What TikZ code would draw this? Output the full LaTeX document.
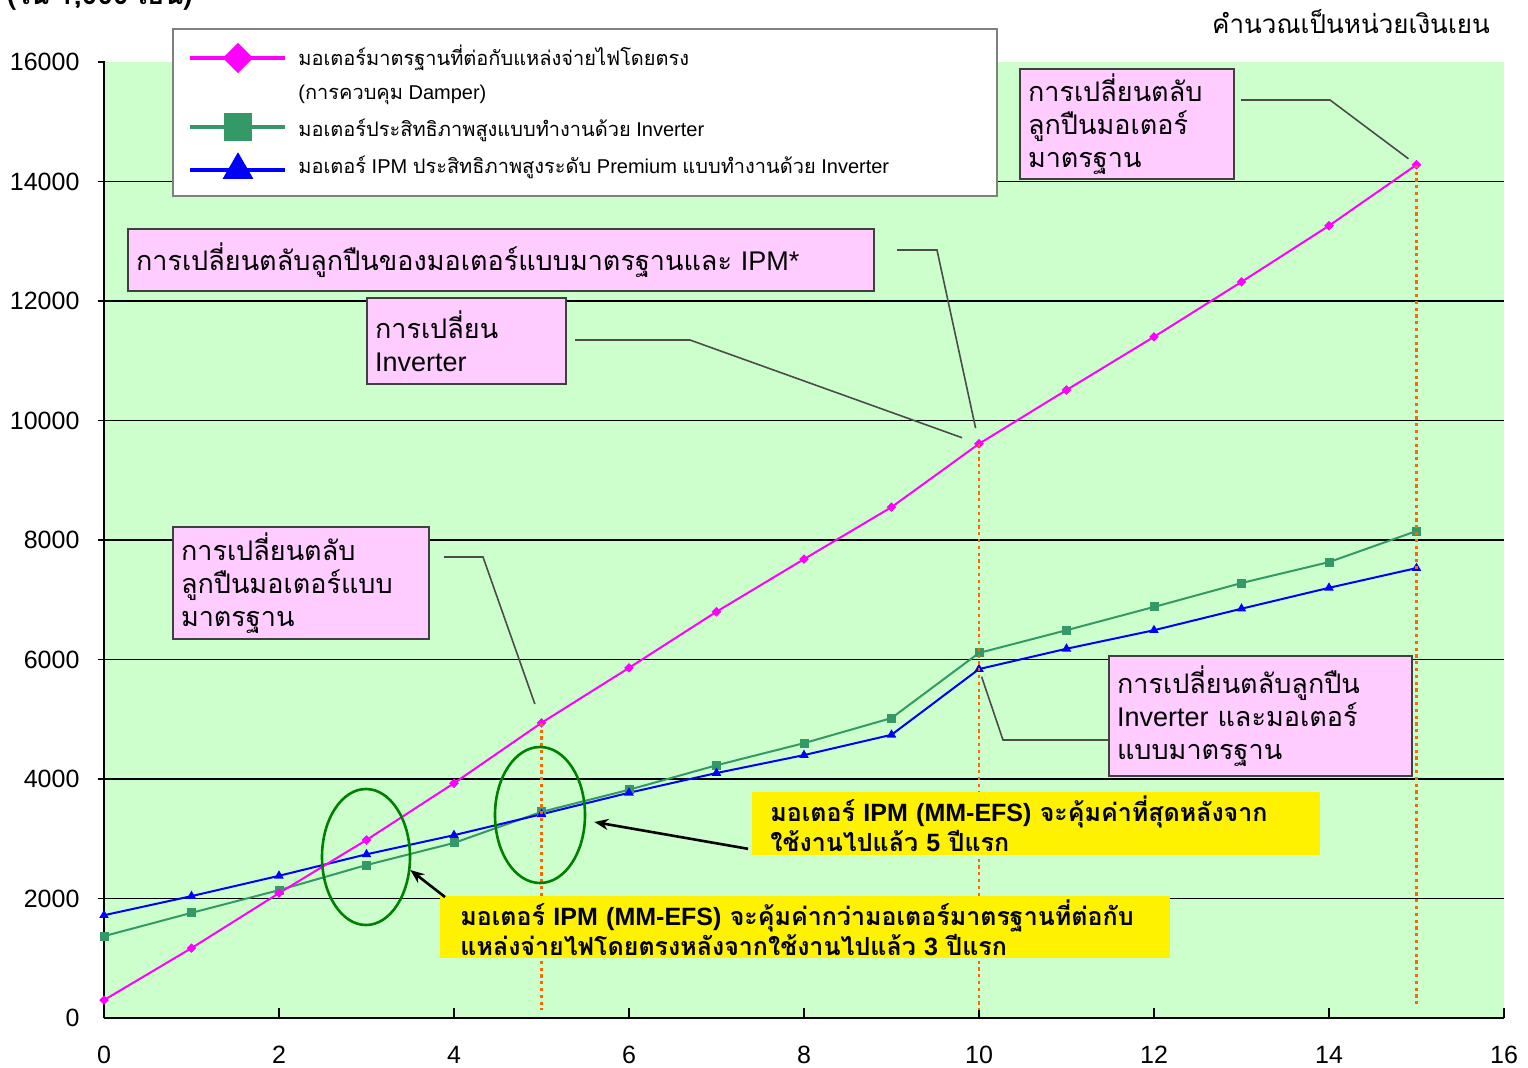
\documentclass[tikz,border=0pt]{standalone}
\usepackage{fontspec}
\setmainfont{Liberation Sans}
\newfontfamily\thai[Script=Thai]{Loma}
\usetikzlibrary{calc,shapes.geometric,arrows.meta}

\definecolor{plotbg}{HTML}{CCFFCC}
\definecolor{boxpink}{HTML}{FFCCFF}
\definecolor{stdmag}{HTML}{FF00FF}
\definecolor{invgrn}{HTML}{339966}
\definecolor{ipmblu}{HTML}{0000FF}
\definecolor{dotorg}{HTML}{FF6600}
\definecolor{ringgrn}{HTML}{008000}

\tikzset{
  pinkbox/.style={draw=black!75, fill=boxpink, line width=1pt, align=left, anchor=north west,
    inner xsep=4pt, inner ysep=0pt, font=\fontsize{13.5}{16.5}\selectfont},
  yelbox/.style={fill=yellow, align=left, anchor=north west, inner ysep=0pt,
    font=\bfseries\fontsize{12.5}{15}\selectfont},
  leader/.style={draw=black!70, line width=0.8pt},
  callarrow/.style={line width=1.3pt, -{Stealth[length=7pt,width=5.5pt]}},
  ring/.style={ellipse, draw=ringgrn, line width=1.3pt, inner sep=0pt},
  vdots/.style={dotorg, line width=1.4pt, dash pattern=on 1.6pt off 1.8pt},
  magdot/.style={diamond, fill=stdmag, inner sep=0pt, minimum size=5pt},
  grndot/.style={rectangle, fill=invgrn, inner sep=0pt, minimum size=4.5pt},
  bludot/.style={regular polygon, regular polygon sides=3, fill=ipmblu, inner sep=0pt, minimum size=5.5pt},
  ylab/.style={anchor=east, font=\fontsize{12.5}{14}\selectfont},
  xlab/.style={font=\fontsize{12.5}{14}\selectfont},
  legtext/.style={anchor=west, inner sep=0pt, font=\fontsize{10}{12}\selectfont}
}

\begin{document}
\begin{tikzpicture}[x=0.5pt,y=-0.5pt]
\useasboundingbox (0,0) rectangle (1528,1067);

\node[anchor=base west, font=\thai\bfseries\fontsize{14}{16}\selectfont] (unitlabel) at (0,4) {(ใน 1,000 เยน)};
\node[font=\thai\fontsize{13}{15}\selectfont] (unitnote) at (1351,22) {คำนวณเป็นหน่วยเงินเยน};

% plot area
\fill[plotbg] (104,62) rectangle (1504,1018);
\begin{scope}[shift={(104,1018)},x=43.75pt,y=29.875pt]
  \foreach \v in {2,4,...,14} \draw[line width=0.6pt] (-0.07,\v) -- (16,\v);
  \foreach \v/\t in {0/0,2/2000,4/4000,6/6000,8/8000,10/10000,12/12000,14/14000,16/16000}
    \node[ylab] (y\v) at (-0.2,\v) {\t};
  \foreach \i in {0,2,...,16} \node[xlab] (x\i) at (\i,-0.62) {\i};
  \draw[line width=0.8pt] (0,0) -- (0,16) -- (-0.07,16);
  \foreach \i in {2,4,...,16} \draw[line width=0.7pt] (\i,0) -- (\i,0.17);
  \draw[line width=1.3pt] (0,0) -- (16,0);

  % data (in 1,000 yen)
  \foreach \v [count=\i from 0] in {0.30,1.17,2.09,2.98,3.93,4.94,5.86,6.80,7.68,8.55,9.61,10.51,11.40,12.32,13.26,14.28}
    \coordinate (m\i) at (\i,\v);
  \foreach \v [count=\i from 0] in {1.37,1.76,2.14,2.56,2.93,3.45,3.82,4.23,4.60,5.02,6.11,6.49,6.88,7.28,7.63,8.15}
    \coordinate (g\i) at (\i,\v);
  \foreach \v [count=\i from 0] in {1.72,2.04,2.38,2.74,3.06,3.41,3.77,4.10,4.40,4.74,5.84,6.18,6.49,6.85,7.20,7.53}
    \coordinate (b\i) at (\i,\v);
  \coordinate (f5) at (5,0.13);
  \coordinate (f10) at (10,0.13);
  \coordinate (f15) at (15,0.2);

  \draw[invgrn, line width=1pt] (g0) \foreach \i in {1,...,15}{ -- (g\i)};
  \draw[ipmblu, line width=1pt] (b0) \foreach \i in {1,...,15}{ -- (b\i)};
  \draw[stdmag, line width=1pt] (m0) \foreach \i in {1,...,15}{ -- (m\i)};
  \foreach \i in {0,...,15} {
    \node[grndot] (gd\i) at (g\i) {};
    \node[bludot] (bd\i) at (b\i) {};
    \node[magdot] (md\i) at (m\i) {};
  }
  \draw[vdots] (m5) -- (f5);
  \draw[vdots] (m10) -- (f10);
  \draw[vdots] (m15) -- (f15);
\end{scope}

% legend
\node[draw=black!50, fill=white, line width=0.8pt, minimum width=412pt, minimum height=83.5pt,
  anchor=north west, inner sep=0pt] (legend) at (172,28) {};
\node[magdot, minimum size=15pt] (legm) at (238,58) {};
\draw[stdmag, line width=2pt] ([xshift=-24pt]legm.center) -- ([xshift=23.5pt]legm.center);
\node[magdot, minimum size=15pt] at (legm) {};
\node[grndot, minimum size=14pt] (legg) at (238,127) {};
\draw[invgrn, line width=2pt] ([xshift=-24pt]legg.center) -- ([xshift=23.5pt]legg.center);
\node[grndot, minimum size=14pt] at (legg) {};
\node[bludot, minimum size=17.5pt] (legb) at (238,170) {};
\draw[ipmblu, line width=2pt] ([xshift=-24pt]legb.center) -- ([xshift=23.5pt]legb.center);
\node[bludot, minimum size=17.5pt] at (legb) {};
\node[legtext] (legmt) at (298,58) {\thai มอเตอร์มาตรฐานที่ต่อกับแหล่งจ่ายไฟโดยตรง};
\node[legtext] (legdt) at (298,95) {({\thai การควบคุม} Damper)};
\node[legtext] (leggt) at (298,130) {{\thai มอเตอร์ประสิทธิภาพสูงแบบทำงานด้วย} Inverter};
\node[legtext] (legbt) at (298,167) {{\thai มอเตอร์} IPM {\thai ประสิทธิภาพสูงระดับ} Premium {\thai แบบทำงานด้วย} Inverter};

% circled crossings
\node[ring, minimum width=44pt, minimum height=68pt] (ring3) at (366,857) {};
\node[ring, minimum width=45pt, minimum height=68pt] (ring5) at (540,815) {};

% pink notes
\node[pinkbox, text width=99pt, minimum height=55pt] (stdbox15) at (1019,68)
  {{\thai การเปลี่ยนตลับ}\\{\thai ลูกปืนมอเตอร์}\\{\thai มาตรฐาน}};
\node[pinkbox, text width=365pt, minimum height=31pt] (ipmbox) at (127,228)
  {{\thai การเปลี่ยนตลับลูกปืนของมอเตอร์แบบมาตรฐานและ} IPM*};
\node[pinkbox, text width=91.5pt, minimum height=43pt] (invbox) at (366,297)
  {{\thai การเปลี่ยน}\\Inverter};
\node[pinkbox, text width=120pt, minimum height=56pt] (stdbox5) at (172,526)
  {{\thai การเปลี่ยนตลับ}\\{\thai ลูกปืนมอเตอร์แบบ}\\{\thai มาตรฐาน}};
\node[pinkbox, text width=143.5pt, minimum height=60pt] (invstdbox) at (1108,655)
  {{\thai การเปลี่ยนตลับลูกปืน}\\Inverter {\thai และมอเตอร์}\\{\thai แบบมาตรฐาน}};

\coordinate (k15) at (1330,100);
\draw[leader, shorten <=3pt, shorten >=5pt] (k15 -| stdbox15.east) -- (k15) -- (m15);
\coordinate (k10a) at (937,250);
\draw[leader, shorten <=11pt, shorten >=8pt] (k10a -| ipmbox.east) -- (k10a) -- (m10);
\coordinate (k10b) at (690,340);
\draw[leader, shorten <=4pt, shorten >=9pt] (k10b -| invbox.east) -- (k10b) -- (m10);
\coordinate (k5) at (483,557);
\draw[leader, shorten <=7pt, shorten >=10pt] (k5 -| stdbox5.east) -- (k5) -- (m5);
\coordinate (kb10) at (1003,740);
\draw[leader, shorten >=4pt] (kb10 -| invstdbox.west) -- (kb10) -- (b10);

% yellow notes
\node[yelbox, text width=266pt, inner xsep=9pt, minimum height=31.5pt] (noteA) at (752,792)
  {{\thai มอเตอร์} IPM (MM-EFS) {\thai จะคุ้มค่าที่สุดหลังจาก}\\{\thai ใช้งานไปแล้ว} 5 {\thai ปีแรก}};
\node[yelbox, text width=345pt, inner xsep=10pt, minimum height=31pt] (noteB) at (440,896)
  {{\thai มอเตอร์} IPM (MM-EFS) {\thai จะคุ้มค่ากว่ามอเตอร์มาตรฐานที่ต่อกับ}\\{\thai แหล่งจ่ายไฟโดยตรงหลังจากใช้งานไปแล้ว} 3 {\thai ปีแรก}};

\draw[callarrow] ([shift={(-4,-7)}]noteA.south west) -- ([shift={(8,7)}]ring5.east);
\draw[callarrow] ([shift={(5,1)}]noteB.north west) -- ([shift={(-1,13)}]ring3.east);
\end{tikzpicture}
\end{document}
